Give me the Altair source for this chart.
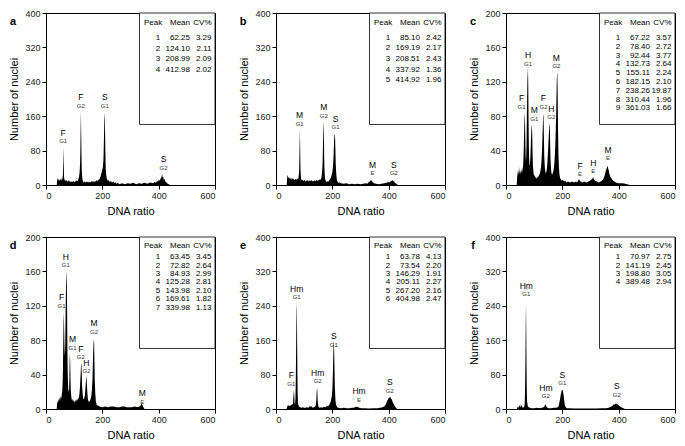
import altair as alt
import pandas as pd

# histogram outlines, (DNA ratio, number of nuclei)
a_hist = [(38,0),(40,12),(42,16),(44,10),(46,15),(48,9),(50,14),(52,11),(54,16),(56,10),(58,14),(60,22),(61,55),(62,88),(63,50),(64,20),(66,10),(68,13),(70,8),(73,12),(76,7),(79,11),(82,8),(85,10),(88,6),(91,9),(94,7),(97,10),(100,6),(103,9),(106,8),(109,11),(112,9),(115,14),(117,18),(119,28),(121,50),(122,80),(123,130),(124,172),(125,120),(126,70),(127,35),(129,15),(131,9),(134,6),(137,9),(140,5),(143,8),(146,6),(149,9),(152,5),(155,8),(158,6),(161,9),(164,7),(167,10),(170,6),(173,9),(176,8),(179,11),(182,9),(185,13),(188,11),(191,16),(194,20),(196,26),(198,30),(200,36),(202,42),(204,60),(205,85),(206,115),(207,150),(208,169),(209,150),(210,110),(211,70),(212,40),(214,22),(216,14),(219,10),(222,12),(225,7),(228,10),(231,6),(234,9),(237,5),(240,8),(243,4),(246,7),(250,3),(255,5),(260,2),(270,4),(280,2),(290,4),(300,3),(310,5),(320,2),(330,4),(340,3),(350,5),(360,3),(370,6),(380,4),(385,7),(390,6),(394,9),(398,8),(401,12),(404,10),(407,15),(410,18),(412,26),(414,17),(416,20),(418,12),(421,14),(424,8),(428,6),(432,3),(436,2),(440,0)]
b_hist = [(38,0),(40,20),(42,23),(44,15),(46,19),(48,14),(50,18),(52,13),(54,17),(56,12),(58,16),(60,13),(63,15),(66,11),(69,14),(72,12),(75,15),(78,13),(80,18),(82,30),(83,60),(84,100),(85,128),(86,80),(87,35),(89,15),(92,10),(95,13),(98,9),(101,12),(104,8),(107,11),(110,9),(113,12),(116,8),(119,11),(122,9),(125,12),(128,8),(131,10),(134,8),(137,11),(140,9),(143,12),(146,9),(149,12),(152,10),(155,13),(158,12),(161,16),(163,25),(165,45),(166,70),(167,100),(168,130),(169,148),(170,120),(171,70),(172,35),(174,15),(177,9),(180,7),(183,9),(186,8),(189,11),(192,14),(195,18),(198,24),(200,30),(202,40),(204,62),(205,80),(206,100),(207,112),(208,118),(209,116),(210,105),(211,80),(212,50),(214,25),(216,12),(219,7),(222,5),(226,6),(230,4),(240,3),(250,4),(260,2),(270,3),(280,2),(290,3),(300,2),(310,3),(318,4),(324,3),(328,6),(332,8),(335,10),(338,11),(341,9),(344,6),(348,4),(355,3),(365,2),(375,3),(385,4),(392,5),(398,7),(403,6),(407,9),(411,10),(414,11),(417,9),(420,8),(424,4),(428,3),(432,0)]
c_hist = [(38,0),(40,12),(41,18),(42,10),(43,16),(44,11),(45,20),(46,13),(47,17),(48,12),(49,22),(50,14),(51,18),(52,12),(53,16),(54,13),(55,20),(56,15),(57,18),(58,14),(59,22),(60,18),(61,25),(62,30),(63,42),(64,55),(65,70),(66,80),(67,84),(68,65),(69,45),(70,32),(71,28),(72,35),(73,50),(74,75),(75,100),(76,122),(77,130),(78,136),(79,115),(80,80),(81,48),(82,32),(83,25),(84,22),(85,24),(86,30),(87,36),(88,45),(89,55),(90,64),(91,68),(92,70),(93,60),(94,42),(95,28),(96,20),(98,14),(100,10),(102,12),(104,8),(106,10),(108,7),(110,9),(112,8),(114,11),(116,9),(118,13),(120,12),(122,16),(124,20),(126,28),(128,42),(130,62),(131,74),(132,83),(133,80),(134,68),(135,48),(136,32),(138,20),(140,15),(142,13),(144,17),(146,22),(148,32),(150,45),(152,58),(153,66),(154,70),(155,71),(156,62),(157,45),(158,30),(160,18),(162,13),(164,12),(166,14),(168,16),(170,20),(172,27),(174,38),(176,55),(178,80),(179,100),(180,118),(181,128),(182,132),(183,118),(184,90),(185,60),(186,38),(188,20),(190,12),(192,8),(195,6),(198,5),(202,6),(206,4),(210,5),(215,3),(220,4),(228,3),(235,4),(242,3),(248,4),(252,3),(256,5),(258,6),(260,7),(262,5),(265,4),(270,3),(278,4),(285,3),(292,4),(298,5),(302,6),(306,7),(309,9),(312,7),(316,5),(322,4),(330,3),(336,4),(340,5),(344,6),(348,9),(351,12),(354,16),(357,19),(359,21),(361,22),(363,19),(365,17),(367,13),(370,10),(373,8),(376,7),(380,5),(385,4),(390,3),(400,2),(415,2),(430,1),(440,0)]
d_hist = [(38,0),(40,9),(42,7),(44,12),(46,8),(48,14),(50,10),(52,15),(54,12),(56,17),(58,22),(59,30),(60,45),(61,70),(62,95),(63,113),(64,100),(65,80),(66,68),(67,62),(68,70),(69,95),(70,120),(71,142),(72,155),(73,160),(74,145),(75,110),(76,70),(77,45),(78,30),(80,20),(82,22),(83,35),(84,55),(85,64),(86,55),(87,35),(88,22),(90,14),(92,10),(94,12),(96,8),(98,11),(100,7),(102,10),(104,8),(106,11),(108,9),(110,12),(112,10),(114,13),(116,12),(118,16),(120,22),(122,35),(124,48),(125,54),(126,50),(127,40),(128,28),(130,18),(132,12),(134,11),(136,13),(138,16),(140,24),(142,33),(143,38),(144,36),(145,30),(147,18),(149,11),(152,8),(155,9),(158,11),(161,15),(163,22),(165,35),(166,48),(167,60),(168,70),(169,78),(170,82),(171,75),(172,55),(173,35),(175,18),(177,9),(180,5),(184,4),(190,3),(200,2),(210,3),(220,2),(230,3),(240,3),(250,2),(260,2),(270,3),(280,3),(285,2),(295,2),(305,2),(315,3),(325,2),(332,3),(336,4),(339,6),(341,5),(343,4),(346,2),(350,0)]
e_hist = [(38,0),(40,6),(42,9),(44,7),(46,10),(48,6),(50,9),(52,7),(54,11),(56,8),(58,12),(60,10),(61,18),(62,30),(63,40),(64,43),(65,30),(66,15),(67,10),(68,12),(69,25),(70,55),(71,110),(72,180),(73,230),(74,247),(75,160),(76,80),(77,35),(78,15),(80,8),(83,5),(86,4),(90,3),(95,4),(100,3),(105,3),(110,4),(115,3),(118,5),(121,7),(124,5),(127,6),(130,3),(134,4),(138,5),(141,8),(143,20),(144,35),(145,45),(146,50),(147,38),(148,20),(150,8),(152,4),(156,3),(160,4),(165,3),(170,5),(175,4),(180,7),(184,6),(188,9),(191,12),(194,16),(196,22),(198,30),(200,45),(201,62),(202,85),(203,115),(204,140),(205,158),(206,150),(207,120),(208,80),(209,50),(211,22),(213,10),(216,5),(220,3),(230,2),(240,3),(250,2),(260,2),(270,3),(276,3),(280,4),(284,5),(288,5),(292,4),(296,3),(302,2),(315,2),(330,1),(345,2),(360,2),(370,3),(378,4),(384,6),(388,9),(391,13),(394,18),(397,22),(399,26),(401,24),(403,28),(405,26),(407,28),(409,22),(411,24),(413,18),(415,15),(417,12),(420,8),(423,5),(426,3),(430,0)]
f_hist = [(38,0),(40,3),(42,5),(44,3),(46,7),(48,9),(50,4),(52,6),(53,11),(54,7),(56,9),(58,4),(60,3),(63,4),(65,6),(66,10),(67,25),(68,60),(69,120),(70,190),(71,248),(72,180),(73,90),(74,40),(75,18),(77,8),(80,4),(85,3),(90,2),(100,2),(110,3),(120,2),(128,3),(133,4),(136,6),(138,8),(140,10),(141,11),(142,9),(144,5),(147,3),(152,2),(160,2),(170,3),(178,3),(183,4),(186,6),(188,10),(190,16),(192,24),(194,32),(196,38),(197,42),(199,45),(200,43),(201,44),(203,38),(205,30),(207,18),(209,9),(212,4),(216,2),(225,2),(240,1),(260,1),(280,1),(300,1),(320,1),(340,2),(355,2),(365,3),(372,5),(377,7),(380,9),(383,11),(386,10),(389,13),(391,11),(394,12),(397,10),(400,9),(403,7),(407,5),(412,3),(417,2),(422,0)]

# peak labels: position of the small second line, species letter, phase
a_lab_x = [61, 123.5, 209, 417.5]
a_lab_y = [102, 184, 184, 40]
a_lab_top = ["F", "F", "S", "S"]
a_lab_sub = ["G1", "G2", "G1", "G2"]
b_lab_x = [84, 169.5, 211.5, 342.5, 418.5]
b_lab_y = [142, 161, 134, 27, 27]
b_lab_top = ["M", "M", "S", "M", "S"]
b_lab_sub = ["G1", "G2", "G1", "E", "G2"]
c_lab_x = [55, 78, 100.5, 133, 161, 179, 263, 310, 362.5]
c_lab_y = [91, 141, 77, 91, 79, 138, 12.5, 16, 31]
c_lab_top = ["F", "H", "M", "F", "H", "M", "F", "H", "M"]
c_lab_sub = ["G1", "G1", "G1", "G2", "G2", "G2", "E", "E", "E"]
d_lab_x = [55, 70.5, 94, 123.5, 143.5, 170.5, 342]
d_lab_y = [120, 167, 71, 60, 44, 90, 8.5]
d_lab_top = ["F", "H", "M", "F", "H", "M", "M"]
d_lab_sub = ["G1", "G1", "G1", "G2", "G2", "G2", "E"]
e_lab_x = [54.5, 73.5, 148, 205, 295, 404]
e_lab_y = [59, 260, 64, 149, 21, 43]
e_lab_top = ["F", "Hm", "Hm", "S", "Hm", "S"]
e_lab_sub = ["G1", "G1", "G2", "G1", "E", "G2"]
f_lab_x = [72, 141.5, 200, 393.5]
f_lab_y = [267, 30, 60, 33.5]
f_lab_top = ["Hm", "Hm", "S", "S"]
f_lab_sub = ["G1", "G2", "G1", "G2"]

# peak tables
a_mean = [62.25, 124.10, 208.99, 412.98]
a_cv = [3.29, 2.11, 2.09, 2.02]
b_mean = [85.10, 169.19, 208.51, 337.92, 414.92]
b_cv = [2.42, 2.17, 2.43, 1.36, 1.96]
c_mean = [67.22, 78.40, 92.44, 132.73, 155.11, 182.15, 238.26, 310.44, 361.03]
c_cv = [3.57, 2.72, 3.77, 2.64, 2.24, 2.10, 19.87, 1.96, 1.66]
d_mean = [63.45, 72.82, 84.93, 125.28, 143.98, 169.61, 339.98]
d_cv = [3.45, 2.64, 2.99, 2.81, 2.10, 1.82, 1.13]
e_mean = [63.78, 73.54, 146.29, 205.11, 267.20, 404.98]
e_cv = [4.13, 2.20, 1.91, 2.27, 2.16, 2.47]
f_mean = [70.97, 141.19, 198.80, 389.48]
f_cv = [2.75, 2.45, 3.05, 2.94]

W, H = 169, 172
FONT = "Liberation Sans"


def panel(letter, hist, ymax, lab_x, lab_y, lab_top, lab_sub, means, cvs,
          head_y, row_y, row_step):
    hd = pd.DataFrame(hist, columns=["ratio", "count"])
    x = alt.X("ratio:Q", scale=alt.Scale(domain=[0, 600]),
              axis=alt.Axis(values=[0, 200, 400, 600], tickCount=10, title="DNA ratio"))
    y = alt.Y("count:Q", scale=alt.Scale(domain=[0, ymax]),
              axis=alt.Axis(values=list(range(0, ymax + 1, ymax // 5)), tickCount=10,
                            title="Number of nuclei"))
    area = alt.Chart(hd).mark_area(color="black", interpolate="linear").encode(x=x, y=y)

    box_df = pd.DataFrame({"ratio": [332], "ratio2": [600],
                           "count": [ymax * 0.352], "count2": [ymax]})
    box = alt.Chart(box_df).mark_rect(fill="white", stroke="black", strokeWidth=0.8).encode(
        x="ratio:Q", x2="ratio2", y="count:Q", y2="count2")

    ld = pd.DataFrame({"ratio": lab_x, "count": lab_y, "species": lab_top, "phase": lab_sub})
    sub = alt.Chart(ld).mark_text(fontSize=6, fill="#333", baseline="middle").encode(
        x="ratio:Q", y="count:Q", text="phase:N")
    top = alt.Chart(ld).mark_text(fontSize=8.5, fill="black", baseline="middle", dy=-8.5).encode(
        x="ratio:Q", y="count:Q", text="species:N")

    n = len(means)
    nums = "\n".join(str(i + 1) for i in range(n))
    mtxt = "\n".join(f"{v:.2f}" for v in means)
    ctxt = "\n".join(f"{v:.2f}" for v in cvs)
    tk = dict(fontSize=8, fill="black", lineBreak="\n", lineHeight=row_step,
              baseline="alphabetic")
    ty = alt.value(row_y + 3)
    col_num = alt.Chart(box_df).mark_text(align="center", **tk).encode(
        x=alt.value(W - 57), y=ty, text=alt.value(nums))
    col_mean = alt.Chart(box_df).mark_text(align="right", **tk).encode(
        x=alt.value(W - 25), y=ty, text=alt.value(mtxt))
    col_cv = alt.Chart(box_df).mark_text(align="right", **tk).encode(
        x=alt.value(W - 3.5), y=ty, text=alt.value(ctxt))
    hk = dict(fontSize=8, fill="black", baseline="middle")
    h1 = alt.Chart(box_df).mark_text(align="left", **hk).encode(
        x=alt.value(W - 71), y=alt.value(head_y), text=alt.value("Peak"))
    h2 = alt.Chart(box_df).mark_text(align="right", **hk).encode(
        x=alt.value(W - 25), y=alt.value(head_y), text=alt.value("Mean"))
    h3 = alt.Chart(box_df).mark_text(align="right", **hk).encode(
        x=alt.value(W - 3.5), y=alt.value(head_y), text=alt.value("CV%"))

    tag = alt.Chart(box_df).mark_text(fontSize=11, fontWeight="bold", align="center",
                                      baseline="middle", fill="black").encode(
        x=alt.value(-33), y=alt.value(9), text=alt.value(letter))

    return alt.layer(area, box, sub, top, col_num, col_mean, col_cv, h1, h2, h3, tag).properties(
        width=W, height=H)


pa = panel("a", a_hist, 400, a_lab_x, a_lab_y, a_lab_top, a_lab_sub, a_mean, a_cv, 10, 24, 10.7)
pb = panel("b", b_hist, 400, b_lab_x, b_lab_y, b_lab_top, b_lab_sub, b_mean, b_cv, 10, 23.5, 10.7)
pc = panel("c", c_hist, 200, c_lab_x, c_lab_y, c_lab_top, c_lab_sub, c_mean, c_cv, 10, 24, 8.8)
pd_ = panel("d", d_hist, 200, d_lab_x, d_lab_y, d_lab_top, d_lab_sub, d_mean, d_cv, 9.3, 19.3, 8.4)
pe = panel("e", e_hist, 400, e_lab_x, e_lab_y, e_lab_top, e_lab_sub, e_mean, e_cv, 9.3, 19.3, 8.4)
pf = panel("f", f_hist, 400, f_lab_x, f_lab_y, f_lab_top, f_lab_sub, f_mean, f_cv, 9.3, 19.3, 8.4)

chart = alt.vconcat(
    alt.hconcat(pa, pb, pc, spacing=22),
    alt.hconcat(pd_, pe, pf, spacing=22),
    spacing=15,
    padding=0,
).configure(font=FONT).configure_view(
    stroke="black", strokeWidth=1
).configure_axis(
    labelFont=FONT, titleFont=FONT, labelFontSize=9, titleFontSize=11,
    titleFontWeight="normal", tickSize=4, tickColor="black", domainColor="black",
    labelColor="#222", titleColor="black", grid=False, labelPadding=2,
    labelOverlap=False
).configure_axisY(titlePadding=5).configure_axisX(titlePadding=5)

chart.save("out.html", embed_options={"renderer": "svg", "actions": False})
